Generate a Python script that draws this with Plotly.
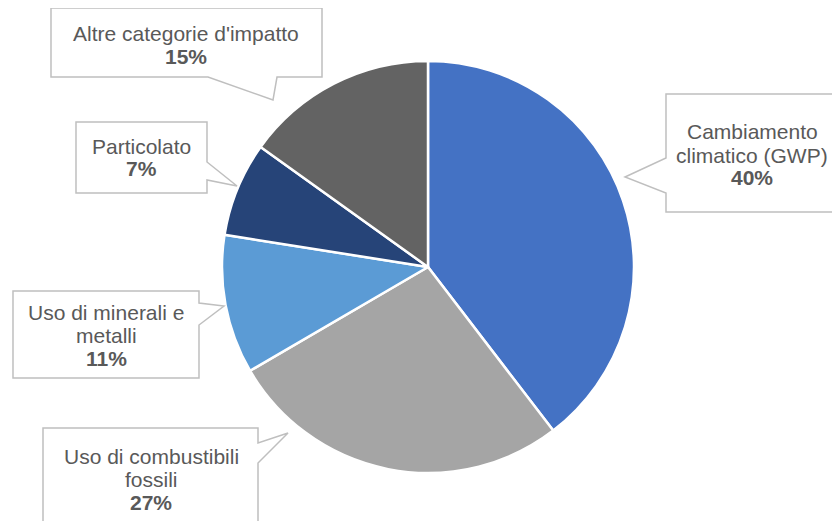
import plotly.graph_objects as go

W, H = 840, 521
OFF = 8  # page body margin in the browser

categories = ["Cambiamento climatico (GWP)", "Uso di combustibili fossili",
              "Uso di minerali e metalli", "Particolato", "Altre categorie d'impatto"]
values = [39.6, 27.0, 10.9, 7.4, 15.1]
pct_labels = ["40%", "27%", "11%", "7%", "15%"]
colors = ["#4472C4", "#A5A5A5", "#5B9BD5", "#264478", "#636363"]

# label lines as shown in the callouts (followed by the bold percentage)
label_lines = [
    ["Cambiamento", "climatico (GWP)"],
    ["Uso di combustibili", "fossili"],
    ["Uso di minerali e", "metalli"],
    ["Particolato"],
    ["Altre categorie d'impatto"],
]

def px(x):
    return (x - OFF) / W

def py(y):
    return 1 - (y - OFF) / H

# callout geometry in window pixels
callouts = [
    dict(box=(666, 94, 838, 212), ptr=("left", 158, 193, 625, 177), cx=752, cy=132),
    dict(box=(43, 428, 258, 530), ptr=("right", 443, 463, 288, 433), cx=151, cy=456),
    dict(box=(13, 291, 199, 378), ptr=("right", 303, 325, 224, 306), cx=106, cy=312),
    dict(box=(76, 122, 207, 193), ptr=("right", 162, 180, 237, 186), cx=141, cy=146),
    dict(box=(51, 8, 322, 77), ptr=("bottom", 208, 277, 273, 100), cx=186, cy=33),
]

LINE = 23

fig = go.Figure(go.Pie(
    labels=categories, values=values, sort=False, direction="clockwise",
    rotation=0, marker=dict(colors=colors, line=dict(color="white", width=2.5)),
    textinfo="none", hoverinfo="label+percent", showlegend=False,
    domain=dict(x=[px(222), px(634)], y=[py(473), py(61)]),
))

shapes = []
annotations = []
for i, c in enumerate(callouts):
    x0, y0, x1, y1 = c["box"]
    side, b0, b1, tx, ty = c["ptr"]
    if side == "left":
        pts = [(x0, y0), (x1, y0), (x1, y1), (x0, y1), (x0, b1), (tx, ty), (x0, b0)]
    elif side == "right":
        pts = [(x0, y0), (x1, y0), (x1, b0), (tx, ty), (x1, b1), (x1, y1), (x0, y1)]
    else:  # bottom
        pts = [(x0, y0), (x1, y0), (x1, y1), (b1, y1), (tx, ty), (b0, y1), (x0, y1)]
    path = "M " + " L ".join(f"{px(a):.5f},{py(b):.5f}" for a, b in pts) + " Z"
    shapes.append(dict(type="path", path=path, xref="paper", yref="paper",
                       line=dict(color="#BFBFBF", width=1.5), fillcolor="white",
                       layer="above"))
    lines = list(label_lines[i]) + [f"<b>{pct_labels[i]}</b>"]
    for k, t in enumerate(lines):
        annotations.append(dict(
            text=t, x=px(c["cx"]), y=py(c["cy"] + k * LINE), xref="paper", yref="paper",
            xanchor="center", yanchor="middle", showarrow=False,
            font=dict(family="Liberation Sans, Arial, sans-serif", size=21, color="#595959"),
        ))

fig.update_layout(
    width=W, height=H, margin=dict(l=0, r=0, t=0, b=0),
    paper_bgcolor="white", plot_bgcolor="white",
    shapes=shapes, annotations=annotations,
)

fig.write_html("out.html")
